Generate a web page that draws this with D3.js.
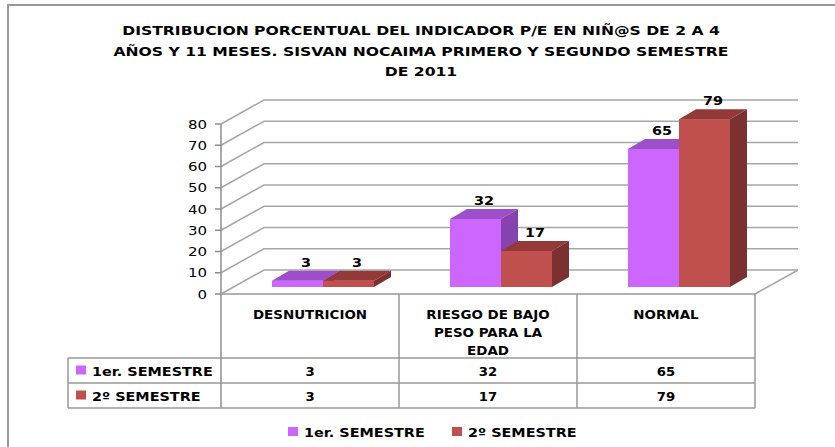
<!DOCTYPE html>
<html>
<head>
<meta charset="utf-8">
<script src="https://cdn.jsdelivr.net/npm/d3@7"></script>
<style>
  body { margin: 0; background: #fff; }
  svg { display: block; }
</style>
</head>
<body>
<svg width="835" height="447"></svg>
<script>
var titleLines = ['DISTRIBUCION PORCENTUAL DEL INDICADOR P/E EN NIÑ@S DE 2 A 4',
                  'AÑOS Y 11 MESES. SISVAN NOCAIMA PRIMERO Y SEGUNDO SEMESTRE',
                  'DE 2011'];
var categories = ['DESNUTRICION', 'RIESGO DE BAJO PESO PARA LA EDAD', 'NORMAL'];
var categoryLines = [['DESNUTRICION'], ['RIESGO DE BAJO', 'PESO PARA LA', 'EDAD'], ['NORMAL']];
var series = ['1er. SEMESTRE', '2º SEMESTRE'];
var semestre1 = [3, 32, 65];
var semestre2 = [3, 17, 79];
var yTicks = [0, 10, 20, 30, 40, 50, 60, 70, 80];

var colors = {
  '1er. SEMESTRE': { front: '#cc66ff', top: '#9c4fc9', side: '#8743ad' },
  '2º SEMESTRE':   { front: '#c0504d', top: '#933a38', side: '#7a3130' }
};
var values = { '1er. SEMESTRE': semestre1, '2º SEMESTRE': semestre2 };

var svg = d3.select('svg'),
    w = +svg.attr('width'),
    h = +svg.attr('height');

// depth of the 3d box and of the bars
var DX = 43, DY = 24, BDX = 17, BDY = 10;
var BOX = (DX - BDX) / 2, BOY = (DY - BDY) / 2;
var SX = 1.2; // stretched look of the original text

var x = d3.scaleBand().domain(categories).range([221, 755]),
    xs = d3.scaleBand().domain(series).range([0, x.bandwidth()]).paddingInner(0).paddingOuter(0.745),
    y = d3.scaleLinear().domain([0, 80]).range([294, 124]);

function stext(g, px, py, str, size, weight, anchor, family, sx) {
  return g.append('text')
    .attr('transform', 'translate(' + px + ',' + py + ') scale(' + (sx || SX) + ',1)')
    .attr('text-anchor', anchor || 'middle')
    .style('font-family', family || 'DejaVu Sans')
    .style('font-size', size + 'px')
    .style('font-weight', weight || 'bold')
    .attr('fill', '#000')
    .text(str);
}

// frame
svg.append('path')
  .attr('d', 'M8,' + h + 'V5H' + w)
  .attr('fill', 'none').attr('stroke', '#9a9a9a').attr('stroke-width', 2);

// title
titleLines.forEach(function(t, i) {
  stext(svg, 421, 35 + i * 20.5, t, 13, 'bold', 'middle', 'DejaVu Sans', 1.2);
});

// gridlines (side wall + back wall)
var grid = svg.append('g').attr('class', 'grid');
grid.selectAll('path')
  .data(yTicks)
  .enter()
  .append('path')
  .attr('d', function(d) {
    return 'M' + x.range()[0] + ',' + y(d) + 'L' + (x.range()[0] + DX) + ',' + (y(d) - DY) +
           'L' + (x.range()[1] + DX) + ',' + (y(d) - DY);
  })
  .attr('fill', 'none').attr('stroke', '#a6a6a6').attr('stroke-width', 1.5);

// floor right edge
svg.append('path')
  .attr('d', 'M' + x.range()[1] + ',' + y(0) + 'l' + DX + ',' + (-DY))
  .attr('fill', 'none').attr('stroke', '#a6a6a6').attr('stroke-width', 1.5);

// axis
var axis = svg.append('g').attr('class', 'axis');
axis.append('line')
  .attr('x1', 221).attr('x2', 221).attr('y1', y(80)).attr('y2', 408)
  .attr('stroke', '#8c8c8c').attr('stroke-width', 1.5);
axis.selectAll('.tick')
  .data(yTicks)
  .enter()
  .append('line')
  .attr('x1', 215).attr('x2', 221)
  .attr('y1', function(d) { return y(d); })
  .attr('y2', function(d) { return y(d); })
  .attr('stroke', '#8c8c8c').attr('stroke-width', 1.5);
yTicks.forEach(function(d) {
  stext(axis, 207, y(d) + 4.5, d, 12, 'normal', 'end', 'DejaVu Sans', 1.25);
});

// bars
var bars = svg.append('g').attr('class', 'bars');
categories.forEach(function(c, ci) {
  series.forEach(function(s) {
    var v = values[s][ci],
        x0 = x(c) + xs(s) + BOX,
        bw = xs.bandwidth(),
        yb = y(0) - BOY,
        yt = y(v) - BOY,
        col = colors[s];
    bars.append('rect')
      .attr('x', x0).attr('y', yt).attr('width', bw).attr('height', yb - yt)
      .attr('fill', col.front);
    bars.append('path')
      .attr('d', 'M' + x0 + ',' + yt + 'l' + BDX + ',' + (-BDY) + 'h' + bw + 'l' + (-BDX) + ',' + BDY + 'Z')
      .attr('fill', col.top);
    bars.append('path')
      .attr('d', 'M' + (x0 + bw) + ',' + yt + 'l' + BDX + ',' + (-BDY) + 'V' + (yb - BDY) + 'l' + (-BDX) + ',' + BDY + 'Z')
      .attr('fill', col.side);
    stext(bars, x0 + bw / 2 + BDX / 2, yt - BDY - 4, v, 12, 'bold', 'middle', 'DejaVu Sans', 1.2);
  });
});

// data table
var table = svg.append('g').attr('class', 'table');
var rowY = [294, 358, 383, 408];
var tableStroke = '#999';
table.append('line')
  .attr('x1', x.range()[0]).attr('x2', x.range()[1]).attr('y1', rowY[0]).attr('y2', rowY[0])
  .attr('stroke', tableStroke).attr('stroke-width', 1.5);
rowY.slice(1).forEach(function(ry) {
  table.append('line')
    .attr('x1', 68).attr('x2', x.range()[1]).attr('y1', ry).attr('y2', ry)
    .attr('stroke', tableStroke).attr('stroke-width', 1.5);
});
table.append('line')
  .attr('x1', 68).attr('x2', 68).attr('y1', rowY[1]).attr('y2', rowY[3])
  .attr('stroke', tableStroke).attr('stroke-width', 1.5);
categories.forEach(function(c) {
  table.append('line')
    .attr('x1', x(c) + x.bandwidth()).attr('x2', x(c) + x.bandwidth())
    .attr('y1', rowY[0]).attr('y2', rowY[3])
    .attr('stroke', tableStroke).attr('stroke-width', 1.5);
});
categoryLines.forEach(function(lines, ci) {
  lines.forEach(function(l, li) {
    stext(table, x(categories[ci]) + x.bandwidth() / 2, 319 + li * 18, l, 12, 'bold', 'middle', 'DejaVu Sans', 1.12);
  });
});
series.forEach(function(s, si) {
  var cy = (rowY[si + 1] + rowY[si + 2]) / 2;
  table.append('rect')
    .attr('x', 76).attr('y', cy - 5).attr('width', 10).attr('height', 9)
    .attr('fill', colors[s].front);
  stext(table, 92, cy + 5, s, 12, 'bold', 'start', 'DejaVu Sans', 1.2);
  values[s].forEach(function(v, ci) {
    stext(table, x(categories[ci]) + x.bandwidth() / 2, cy + 5, v, 12, 'bold', 'middle', 'DejaVu Sans', 1.1);
  });
});

// legend
var legend = svg.append('g').attr('class', 'legend');
var legendX = [288, 452];
series.forEach(function(s, si) {
  legend.append('rect')
    .attr('x', legendX[si]).attr('y', 427).attr('width', 10).attr('height', 9)
    .attr('fill', colors[s].front);
  stext(legend, legendX[si] + 16, 437, s, 12, 'bold', 'start', 'DejaVu Sans', 1.2);
});
</script>
</body>
</html>
